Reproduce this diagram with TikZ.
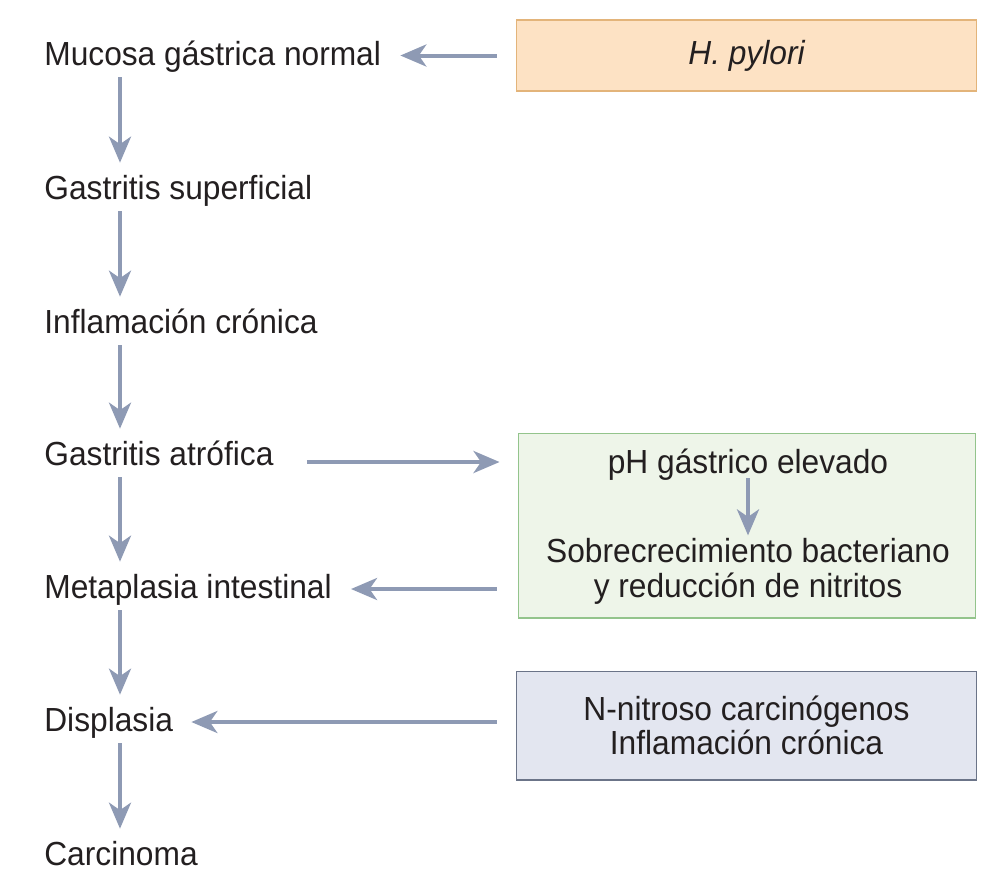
\documentclass[tikz,border=0pt]{standalone}
\usepackage{fontspec}
\setmainfont{Liberation Sans}[FakeStretch=0.95]
\usepackage{xcolor}
\usetikzlibrary{arrows.meta,positioning,calc}

\definecolor{arrcol}{HTML}{8E9AB4}
\definecolor{txtcol}{HTML}{231F20}
\definecolor{peachfill}{HTML}{FDE2C4}
\definecolor{peachline}{HTML}{E3B47A}
\definecolor{greenfill}{HTML}{EEF5E9}
\definecolor{greenline}{HTML}{93C48C}
\definecolor{bluefill}{HTML}{E3E6F0}
\definecolor{blueline}{HTML}{6B7488}

\begin{document}
\begin{tikzpicture}[
  x=0.02cm, y=-0.02cm,
  every node/.style={font=\fontsize{19}{19.4}\selectfont, text=txtcol},
  stage/.style={anchor=base west, inner sep=0pt, text height=0.5cm, text depth=0.14cm},
  box/.style={draw, line width=0.6pt, minimum width=9.22cm},
  hbox/.style={box, fill=peachfill, draw=peachline, minimum height=1.42cm},
  gbox/.style={box, fill=greenfill, draw=greenline, minimum width=9.16cm, minimum height=3.7cm},
  bbox/.style={box, fill=bluefill, draw=blueline, minimum height=2.18cm, align=center},
  inbox/.style={anchor=base, inner sep=0pt, align=center},
  arr/.style={-{Stealth[length=0.52cm, width=0.44cm, inset=0.15cm]}, line width=0.08cm, draw=arrcol},
  down/.style={arr, shorten <=0.1cm, shorten >=0.22cm},
]
  \useasboundingbox (0,0) rectangle (1000,887);

  % stages on the left
  \node[stage] (muc) at (44,65)  {Mucosa gástrica normal};
  \node[stage] (sup) at (44,199) {Gastritis superficial};
  \node[stage] (inf) at (44,333) {Inflamación crónica};
  \node[stage] (atr) at (44,465) {Gastritis atrófica};
  \node[stage] (met) at (44,598) {Metaplasia intestinal};
  \node[stage] (dis) at (44,731) {Displasia};
  \node[stage] (car) at (44,865) {Carcinoma};
  \coordinate (col) at (120,0);

  % factors on the right
  \node[hbox] (hp) at (746.5,55.5) {\itshape H. pylori};
  \node[gbox] (ph) at (747,525.5) {};
  \node[inbox] (ph1) at (748,473) {pH gástrico elevado};
  \node[inbox] (ph2) at (748,597) {Sobrecrecimiento bacteriano\\y reducción de nitritos};
  \node[bbox] (nn) at (746.5,725.5) {N-nitroso carcinógenos\\Inflamación crónica};

  \draw[down] (muc.south -| col) -- (sup.north -| col);
  \draw[down] (sup.south -| col) -- (inf.north -| col);
  \draw[down] (inf.south -| col) -- (atr.north -| col);
  \draw[down] (atr.south -| col) -- (met.north -| col);
  \draw[down] (met.south -| col) -- (dis.north -| col);
  \draw[down] (dis.south -| col) -- (car.north -| col);

  \draw[arr, shorten <=0.38cm, shorten >=0.38cm] (hp.west) -- (hp.west -| muc.east);
  \draw[arr, shorten <=0.66cm, shorten >=0.36cm] (atr.east |- 0,462) -- (ph.west |- 0,462);
  \draw[arr, shorten <=0.42cm, shorten >=0.38cm] (ph.west |- met) -- (met.east);
  \draw[arr, shorten <=0.38cm, shorten >=0.36cm] (nn.west |- dis) -- (dis.east);
  \draw[arr, shorten <=-0.04cm, shorten >=0.06cm] (ph1.south) -- (ph2.north);
\end{tikzpicture}
\end{document}
